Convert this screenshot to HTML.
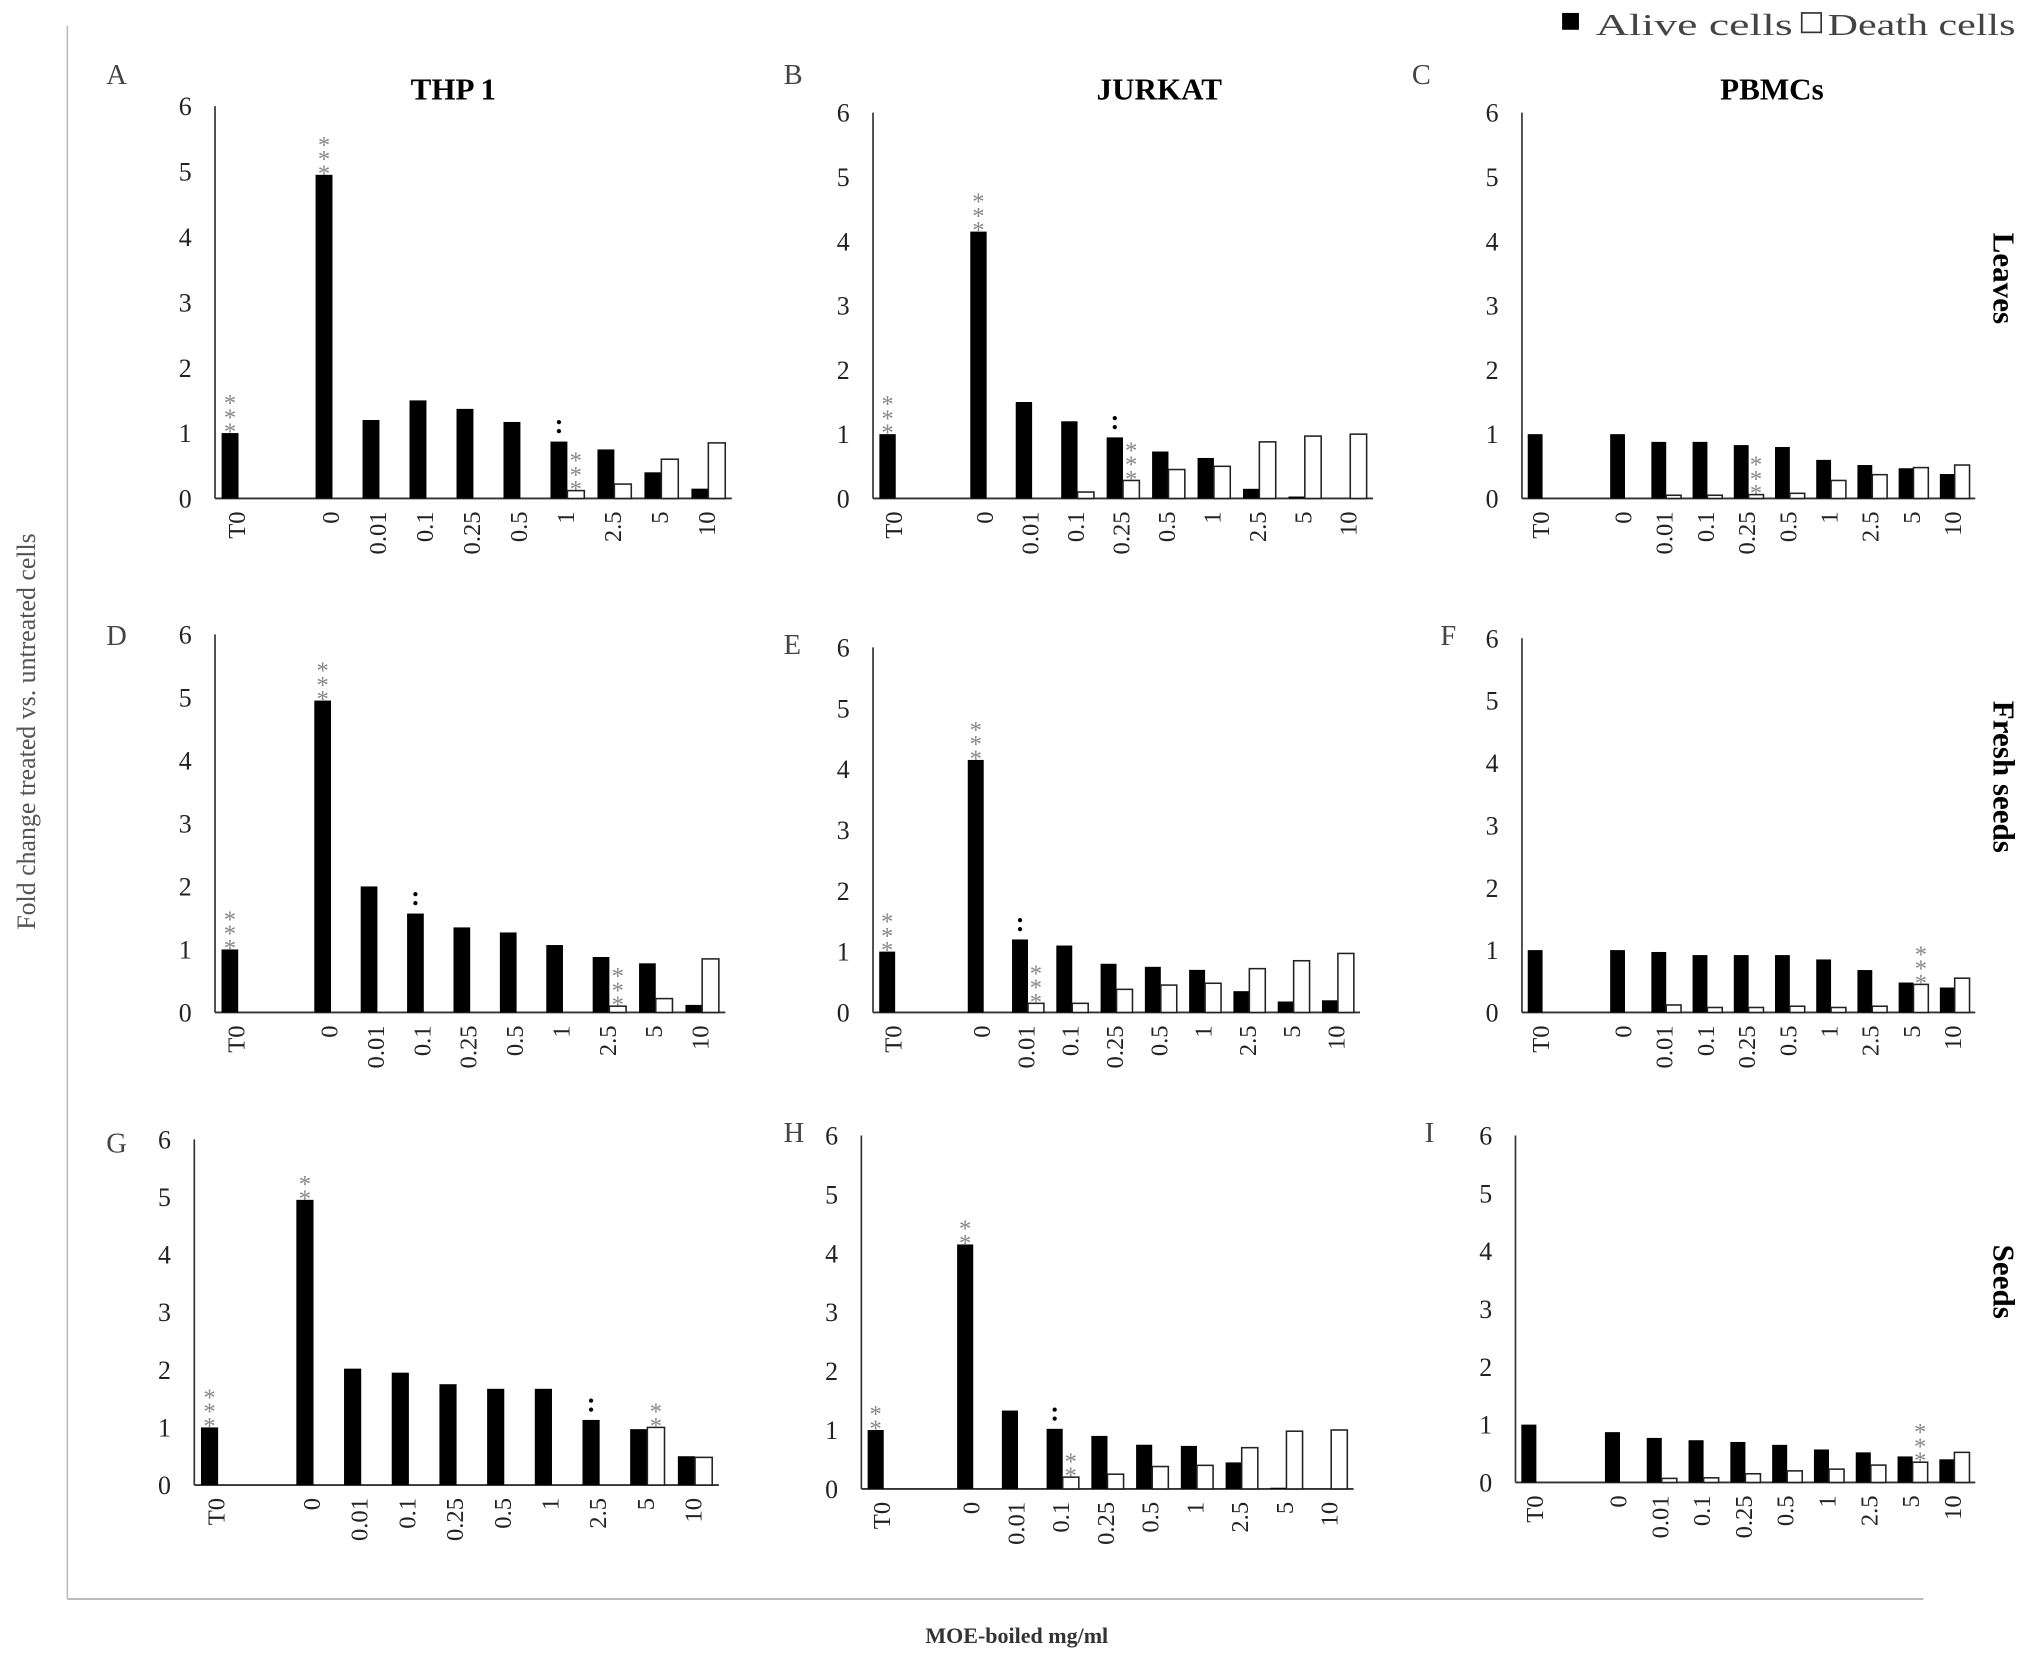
<!DOCTYPE html>
<html><head><meta charset="utf-8"><style>
html,body{margin:0;padding:0;background:#fff;}
svg{display:block;font-family:"Liberation Serif",serif;}
</style></head><body>
<svg id="fig" width="2031" height="1665" viewBox="0 0 1568 1286" preserveAspectRatio="none" xmlns="http://www.w3.org/2000/svg">
<line x1="52" y1="20" x2="52" y2="1235" stroke="#bbb" stroke-width="1.2"/>
<line x1="52" y1="1235" x2="1485" y2="1235" stroke="#bbb" stroke-width="1.5"/>
<g>
<rect x="1206" y="10" width="13" height="13" fill="#000"/>
<text x="1232" y="27" font-size="24" fill="#444" textLength="152" lengthAdjust="spacingAndGlyphs">Alive cells</text>
<rect x="1391" y="10" width="15" height="15" fill="#fff" stroke="#333" stroke-width="1.3"/>
<text x="1411" y="27" font-size="24" fill="#444" textLength="145" lengthAdjust="spacingAndGlyphs">Death cells</text>
</g>
<text transform="translate(27,565) rotate(-90)" text-anchor="middle" font-size="20" fill="#555">Fold change treated vs. untreated cells</text>
<text x="785" y="1269" text-anchor="middle" font-size="17" font-weight="bold" fill="#333">MOE-boiled mg/ml</text>
<text x="350" y="77" text-anchor="middle" font-size="24" font-weight="bold">THP 1</text>
<text x="895" y="77" text-anchor="middle" font-size="24" font-weight="bold">JURKAT</text>
<text x="1368" y="77" text-anchor="middle" font-size="24" font-weight="bold">PBMCs</text>
<text transform="translate(1539,215) rotate(90)" text-anchor="middle" font-size="24" font-weight="bold">Leaves</text>
<text transform="translate(1539,600) rotate(90)" text-anchor="middle" font-size="24" font-weight="bold">Fresh seeds</text>
<text transform="translate(1539,990) rotate(90)" text-anchor="middle" font-size="24" font-weight="bold">Seeds</text>
<g id="panels"></g>
</svg>
<script>
const categories = ["T0","","0","0.01","0.1","0.25","0.5","1","2.5","5","10"];
const yTicks = [0,1,2,3,4,5,6];
const panelLetters = ["A","B","C","D","E","F","G","H","I"];
const aliveA = [1.0,null,4.95,1.2,1.5,1.37,1.17,0.87,0.75,0.4,0.15];
const deadA  = [0,null,0,0,0,0,0,0.12,0.22,0.6,0.85];
const aliveB = [1.0,null,4.15,1.5,1.2,0.95,0.73,0.63,0.15,0.03,0];
const deadB  = [0,null,0,0,0.1,0.28,0.45,0.5,0.88,0.97,1.0];
const aliveC = [1.0,null,1.0,0.88,0.88,0.83,0.8,0.6,0.52,0.47,0.38];
const deadC  = [0,null,0,0.05,0.05,0.06,0.08,0.28,0.37,0.48,0.52];
const aliveD = [1.0,null,4.95,2.0,1.57,1.35,1.27,1.07,0.88,0.78,0.12];
const deadD  = [0,null,0,0,0,0,0,0,0.1,0.22,0.85];
const aliveE = [1.0,null,4.15,1.2,1.1,0.8,0.75,0.7,0.35,0.18,0.2];
const deadE  = [0,null,0,0.15,0.15,0.38,0.45,0.48,0.72,0.85,0.97];
const aliveF = [1.0,null,1.0,0.97,0.92,0.92,0.92,0.85,0.68,0.48,0.4];
const deadF  = [0,null,0,0.12,0.08,0.08,0.1,0.08,0.1,0.45,0.55];
const aliveG = [1.0,null,4.95,2.02,1.95,1.75,1.67,1.67,1.13,0.97,0.5];
const deadG  = [0,null,0,0,0,0,0,0,0,1.0,0.48];
const aliveH = [1.0,null,4.15,1.33,1.02,0.9,0.75,0.73,0.45,0.02,0];
const deadH  = [0,null,0,0,0.2,0.25,0.38,0.4,0.7,0.98,1.0];
const aliveI = [1.0,null,0.87,0.77,0.73,0.7,0.65,0.57,0.52,0.45,0.4];
const deadI  = [0,null,0,0.07,0.08,0.15,0.2,0.23,0.3,0.35,0.52];
const annotA = [[0,0,"***"],[2,0,"***"],[7,0,"••"],[7,1,"***"]];
const annotB = [[0,0,"***"],[2,0,"***"],[5,0,"••"],[5,1,"***"]];
const annotC = [[5,1,"***"]];
const annotD = [[0,0,"***"],[2,0,"***"],[4,0,"••"],[8,1,"***"]];
const annotE = [[0,0,"***"],[2,0,"***"],[3,0,"••"],[3,1,"***"]];
const annotF = [[9,1,"***"]];
const annotG = [[0,0,"***"],[2,0,"**"],[8,0,"••"],[9,1,"**"]];
const annotH = [[0,0,"**"],[2,0,"**"],[4,0,"••"],[4,1,"**"]];
const annotI = [[9,1,"***"]];

const alive=[aliveA,aliveB,aliveC,aliveD,aliveE,aliveF,aliveG,aliveH,aliveI];
const dead=[deadA,deadB,deadC,deadD,deadE,deadF,deadG,deadH,deadI];
const annots=[annotA,annotB,annotC,annotD,annotE,annotF,annotG,annotH,annotI];
const layout=[
 [166,82,385,565,82,65],[674,87,385,1060,605,65],[1175,87,385,1525,1090,65],
 [166,490,782,560,82,498],[674,500,782,1050,605,505],[1175,493,782,1525,1112,498],
 [150,880,1147,555,82,890],[665,877,1150,1045,605,882],[1170,877,1145,1525,1100,882]];
const NS="http://www.w3.org/2000/svg";
const root=document.getElementById("panels");
function mk(tag,attrs,parent){const e=document.createElementNS(NS,tag);for(const k in attrs)e.setAttribute(k,attrs[k]);parent.appendChild(e);return e;}
layout.forEach((L,p)=>{
 const [ax,top,zero,right,lx,ly]=L;
 const g=mk("g",{},root);
 
 
 const yS=v=>zero-(zero-top)*v/6;
 const slot=(right-ax)/categories.length;
 const xS=i=>ax+slot*i;
 const lt=mk("text",{x:lx,y:ly,"font-size":22,fill:"#444"},g);lt.textContent=panelLetters[p];
 
 
 const ya=mk("line",{x1:ax,y1:top,x2:ax,y2:zero,stroke:"#333","stroke-width":1.3},g);
 
 
 const xa=mk("line",{x1:ax,y1:zero,x2:right,y2:zero,stroke:"#333","stroke-width":1.5},g);
 
 
 yTicks.forEach(t=>{const tx=mk("text",{x:ax-23,y:yS(t)+7,"font-size":20,"text-anchor":"middle",fill:"#222"},g);tx.textContent=t;
  
  });
 categories.forEach((c,i)=>{
  const x0=xS(i), bw=slot*0.36, bx=x0+slot*0.14;
  if(c){const tl=mk("text",{transform:`translate(${bx+bw+5},${zero+10}) rotate(-90)`,"font-size":19,"text-anchor":"end",fill:"#222"},g);tl.textContent=c;
   
   }
  const a=alive[p][i], d=dead[p][i];
  if(a!=null){const r=mk("rect",{x:bx,y:yS(a),width:bw,height:zero-yS(a),fill:"#000"},g);
   
   }
  if(d!=null && d>0){const r=mk("rect",{x:bx+bw,y:yS(d),width:bw,height:zero-yS(d),fill:"#fff",stroke:"#222","stroke-width":1.2},g);
   
   }
 });
 annots[p].forEach(([i,s,txt])=>{
  const bw=slot*0.36, bx=xS(i)+slot*0.14+(s?bw:0)+bw/2;
  const v=(s?dead[p]:alive[p])[i];
  let y=yS(v)-3;
  const chars=txt.split("");
  const isDot=txt[0]==="•";
  const step=isDot?7:11;
  chars.forEach((ch,k)=>{
   const t=mk("text",{x:bx,y:y-k*step+(isDot?0:8),"font-size":isDot?14:19,"text-anchor":"middle",fill:isDot?"#000":"#888"},g);
   t.textContent=isDot?"•":"*";
   
   
  });
 });
});
</script>
</body></html>
